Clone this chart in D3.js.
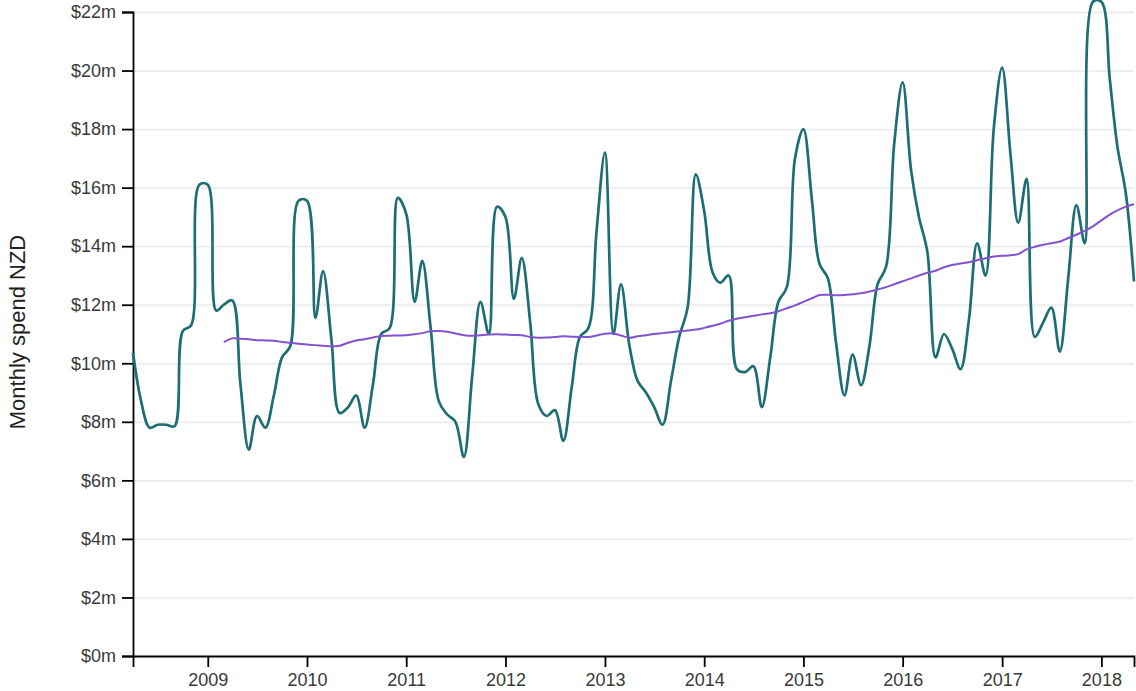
<!DOCTYPE html>
<html>
<head>
<meta charset="utf-8">
<script src="https://d3js.org/d3.v7.min.js"></script>
<style>
  body { margin: 0; background: #fff; }
  .axis text { font-family: "Liberation Sans", Arial, sans-serif; font-size: 18px; fill: #3a3a3a; }
  .axis path, .axis line { stroke: #000; stroke-width: 1.8px; }
  .grid line { stroke: #ededed; stroke-width: 1.8px; }
  .y-label { font-family: "Liberation Sans", Arial, sans-serif; font-size: 22px; fill: #222; }
</style>
</head>
<body>
<div id="chart"></div>
<script>
// monthly spend in $m, one value per month starting Apr 2008
var firstMonth = "2008-04";
var spend = [
  10.35, 8.7, 7.8, 7.9, 7.9, 7.85, 11.1, 11.3, 16.1,            // 2008
  16.1, 11.8, 12.0, 12.15, 9.3, 7.05, 8.2, 7.8, 8.9, 10.2, 10.6, 15.55,   // 2009
  15.55, 11.55, 13.15, 10.8, 8.3, 8.5, 8.9, 7.8, 9.3, 11.0, 11.2, 15.65,  // 2010
  15.1, 12.1, 13.5, 11.2, 8.7, 8.25, 8.0, 6.8, 9.6, 12.1, 11.0, 15.35,    // 2011
  15.0, 12.2, 13.6, 11.4, 8.6, 8.2, 8.4, 7.35, 9.2, 10.9, 11.2, 14.5,     // 2012
  17.2, 11.0, 12.7, 10.6, 9.4, 9.0, 8.5, 7.9, 9.4, 10.9, 11.9, 16.45,     // 2013
  15.2, 13.1, 12.75, 13.0, 9.8, 9.7, 9.9, 8.5, 10.2, 12.1, 12.6, 17.0,    // 2014
  18.0, 15.6, 13.4, 12.9, 10.7, 8.9, 10.3, 9.25, 10.6, 12.7, 13.3, 17.5,  // 2015
  19.6, 16.6, 15.0, 13.8, 10.2, 11.0, 10.5, 9.8, 11.5, 14.1, 13.0, 18.0,  // 2016
  20.1, 17.1, 14.8, 16.3, 10.9, 11.4, 11.9, 10.4, 12.9, 15.4, 14.1, 22.35, // 2017
  22.35, 19.7, 17.4, 15.8, 12.8                                           // 2018
];

// 12 month moving average in $m, starting Mar 2009
var avgFirstMonth = "2009-03";
var spendAvg = [
  10.72, 10.85, 10.84, 10.82, 10.79, 10.78, 10.77, 10.73, 10.70, 10.67,
  10.64, 10.62, 10.60, 10.58, 10.60, 10.70, 10.78, 10.82, 10.88, 10.93,
  10.94, 10.95, 10.96, 10.99, 11.03, 11.09, 11.10, 11.08, 11.02, 10.96,
  10.94, 10.96, 10.98, 10.99, 10.98, 10.97, 10.96, 10.90, 10.87, 10.88,
  10.90, 10.92, 10.91, 10.90, 10.90, 10.95, 11.01, 11.02, 10.95, 10.87,
  10.92, 10.96, 11.00, 11.03, 11.06, 11.09, 11.12, 11.15, 11.21, 11.28,
  11.35, 11.45, 11.52, 11.57, 11.62, 11.67, 11.71, 11.78, 11.88, 11.98,
  12.10, 12.22, 12.33, 12.34, 12.32, 12.33, 12.36, 12.39, 12.45, 12.52,
  12.60, 12.70, 12.80, 12.90, 13.00, 13.09, 13.16, 13.28, 13.36, 13.41,
  13.45, 13.52, 13.59, 13.65, 13.67, 13.69, 13.73, 13.89, 13.98, 14.05,
  14.10, 14.16, 14.28, 14.39, 14.53, 14.68, 14.88, 15.08, 15.22, 15.35,
  15.43
];

var yTicks = [0, 2, 4, 6, 8, 10, 12, 14, 16, 18, 20, 22];
var yLabel = "Monthly spend NZD";

var parseMonth = d3.timeParse("%Y-%m");

// attach a date to each value
function toSeries(start, values) {
  var d0 = parseMonth(start);
  return values.map(function(v, i) {
    return { date: d3.timeMonth.offset(d0, i), value: v };
  });
}
var spendData = toSeries(firstMonth, spend);
var avgData = toSeries(avgFirstMonth, spendAvg);

var margin = { top: 12, right: 2, bottom: 35, left: 133 };
var width = 1136 - margin.left - margin.right;
var height = 691 - margin.top - margin.bottom;

var svg = d3.select("#chart")
  .append("svg")
  .attr("width", 1136)
  .attr("height", 691)
  .append("g")
  .attr("transform", "translate(" + margin.left + "," + margin.top + ")");

var x = d3.scaleTime()
  .domain(d3.extent(spendData, function(d) { return d.date; }))
  .range([0, width]);

var y = d3.scaleLinear()
  .domain([0, 22])
  .range([height, 0]);

// faint horizontal grid
svg.append("g")
  .attr("class", "grid")
  .selectAll("line")
  .data(yTicks.slice(1))
  .enter().append("line")
  .attr("x1", 0.5)
  .attr("x2", width)
  .attr("y1", function(d) { return y(d) + 0.5; })
  .attr("y2", function(d) { return y(d) + 0.5; });

svg.append("g")
  .attr("class", "axis")
  .attr("transform", "translate(0," + height + ")")
  .call(d3.axisBottom(x)
    .ticks(d3.timeYear.every(1))
    .tickFormat(d3.timeFormat("%Y"))
    .tickSize(11)
    .tickPadding(6));

svg.append("g")
  .attr("class", "axis")
  .call(d3.axisLeft(y)
    .tickValues(yTicks)
    .tickFormat(function(d) { return "$" + d + "m"; })
    .tickSize(11)
    .tickPadding(6));

svg.append("text")
  .attr("class", "y-label")
  .attr("transform", "rotate(-90)")
  .attr("x", -(332 - margin.top))
  .attr("y", 25 - margin.left)
  .attr("text-anchor", "middle")
  .text(yLabel);

var line = d3.line()
  .curve(d3.curveCatmullRom)
  .x(function(d) { return x(d.date); })
  .y(function(d) { return y(d.value); });

svg.append("path")
  .datum(spendData)
  .attr("fill", "none")
  .attr("stroke", "#1d6e74")
  .attr("stroke-width", 2.7)
  .attr("d", line);

svg.append("path")
  .datum(avgData)
  .attr("fill", "none")
  .attr("stroke", "#8452d0")
  .attr("stroke-width", 2)
  .attr("d", line);
</script>
</body>
</html>
